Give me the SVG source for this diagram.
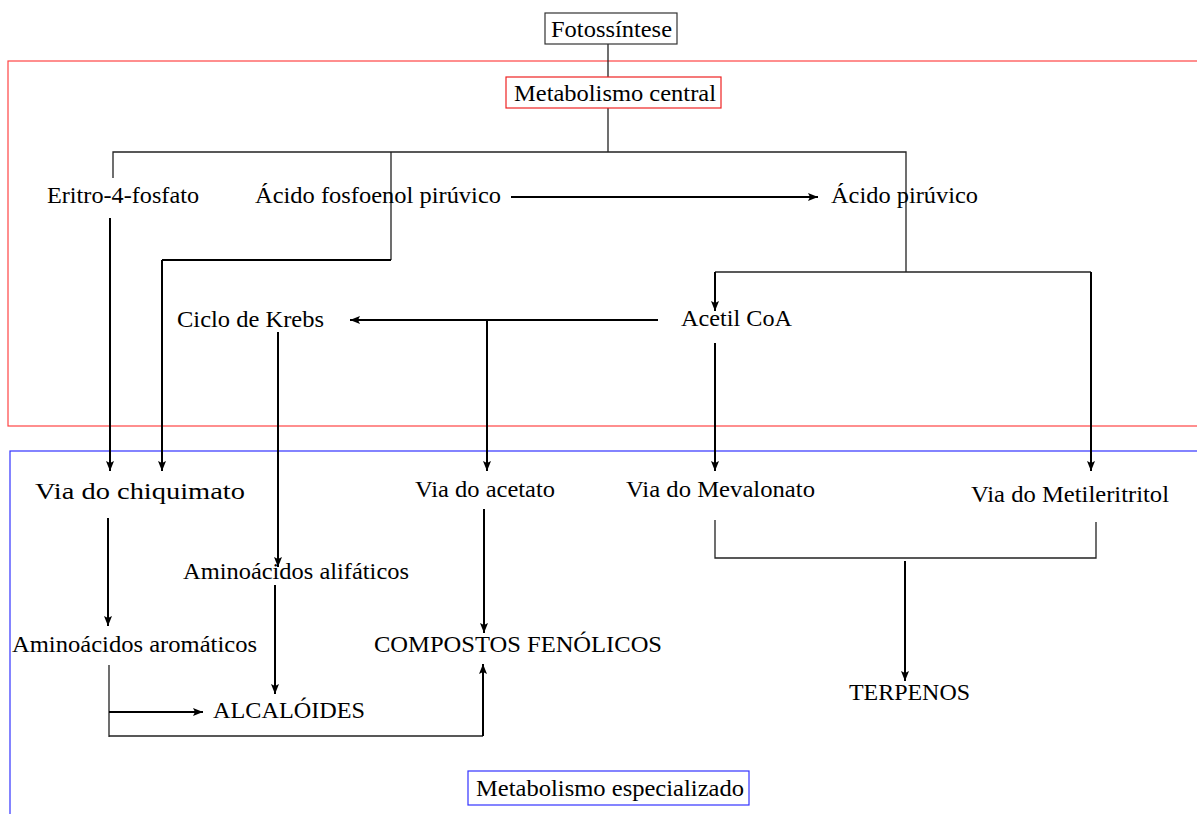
<svg xmlns="http://www.w3.org/2000/svg" width="1197" height="814" viewBox="0 0 1197 814">
<defs>
<marker id="ah" viewBox="0 0 10 10" refX="10" refY="5" markerWidth="10" markerHeight="10" markerUnits="userSpaceOnUse" orient="auto">
<path d="M0,1 L10,5 L0,9 L2,5 z" fill="#000"/>
</marker>
<style>
text{font-family:"Liberation Serif","Times New Roman",serif;font-size:23px;fill:#000}
.thin{stroke:#222;stroke-width:1.3;fill:none}
.thick{stroke:#000;stroke-width:2;fill:none}
.arr{stroke:#000;stroke-width:2;fill:none;marker-end:url(#ah)}
</style>
</defs>
<rect width="1197" height="814" fill="#fff"/>
<g id="regions">
<rect x="8" y="61" width="1200" height="365" fill="none" stroke="#f44" stroke-width="1.2"/>
<rect x="10" y="451" width="1200" height="380" fill="none" stroke="#33f" stroke-width="1.2"/>
</g>
<g id="connectors">
<path class="thin" d="M608,44 V77 M608,108 V152 M113,178 V152 H906 V272 M391,152 V260"/>
<path class="thick" d="M391,260 H162"/>
<path class="arr" d="M162,260 V471"/>
<path class="arr" d="M110,218 V471"/>
<path class="arr" d="M511,197 H818"/>
<path class="thin" d="M715,272 H1091"/>
<path class="arr" d="M715,272 V311"/>
<path class="arr" d="M1091,272 V471"/>
<path class="arr" d="M658,320 H350"/>
<path class="arr" d="M487,320 V471"/>
<path class="arr" d="M715,343 V471"/>
<path class="arr" d="M278,332 V567"/>
<path class="arr" d="M108,518 V626"/>
<path class="arr" d="M484,509 V633"/>
<path class="arr" d="M275,585 V694"/>
<path class="thin" d="M109,665 V737 M109,736 H483"/>
<path class="arr" d="M109,712 H203"/>
<path class="arr" d="M483,736 V664"/>
<path class="thin" d="M715,520 V558 H1096 V522"/>
<path class="arr" d="M905,561 V681"/>
</g>
<g id="fotossintese"><rect x="545" y="13" width="132" height="31" fill="#fff" stroke="#333" stroke-width="1.2"/><text x="551" y="37" textLength="121" lengthAdjust="spacingAndGlyphs">Fotossíntese</text></g>
<g id="metabolismo-central"><rect x="506" y="77" width="215" height="31" fill="#fff" stroke="#e22" stroke-width="1.2"/><text x="514" y="101" textLength="202" lengthAdjust="spacingAndGlyphs">Metabolismo central</text></g>
<g id="eritro"><text x="47" y="203" textLength="152" lengthAdjust="spacingAndGlyphs">Eritro-4-fosfato</text></g>
<g id="pep"><text x="255" y="203" textLength="246" lengthAdjust="spacingAndGlyphs">Ácido fosfoenol pirúvico</text></g>
<g id="piruvico"><text x="831" y="203" textLength="147" lengthAdjust="spacingAndGlyphs">Ácido pirúvico</text></g>
<g id="krebs"><text x="177" y="327" textLength="147" lengthAdjust="spacingAndGlyphs">Ciclo de Krebs</text></g>
<g id="acetil"><text x="681" y="326" textLength="111" lengthAdjust="spacingAndGlyphs">Acetil CoA</text></g>
<g id="chiquimato"><text x="35" y="499" textLength="210" lengthAdjust="spacingAndGlyphs">Via do chiquimato</text></g>
<g id="acetato"><text x="415" y="497" textLength="140" lengthAdjust="spacingAndGlyphs">Via do acetato</text></g>
<g id="mevalonato"><text x="626" y="497" textLength="189" lengthAdjust="spacingAndGlyphs">Via do Mevalonato</text></g>
<g id="metileritritol"><text x="971" y="502" textLength="198" lengthAdjust="spacingAndGlyphs">Via do Metileritritol</text></g>
<g id="alifaticos"><text x="183" y="579" textLength="226" lengthAdjust="spacingAndGlyphs">Aminoácidos alifáticos</text></g>
<g id="aromaticos"><text x="12" y="652" textLength="245" lengthAdjust="spacingAndGlyphs">Aminoácidos aromáticos</text></g>
<g id="fenolicos"><text x="374" y="652" textLength="288" lengthAdjust="spacingAndGlyphs">COMPOSTOS FENÓLICOS</text></g>
<g id="alcaloides"><text x="213" y="718" textLength="152" lengthAdjust="spacingAndGlyphs">ALCALÓIDES</text></g>
<g id="terpenos"><text x="849" y="700" textLength="121" lengthAdjust="spacingAndGlyphs">TERPENOS</text></g>
<g id="metabolismo-especializado"><rect x="468" y="771" width="281" height="34" fill="#fff" stroke="#33f" stroke-width="1.2"/><text x="476" y="796" textLength="268" lengthAdjust="spacingAndGlyphs">Metabolismo especializado</text></g>
</svg>
